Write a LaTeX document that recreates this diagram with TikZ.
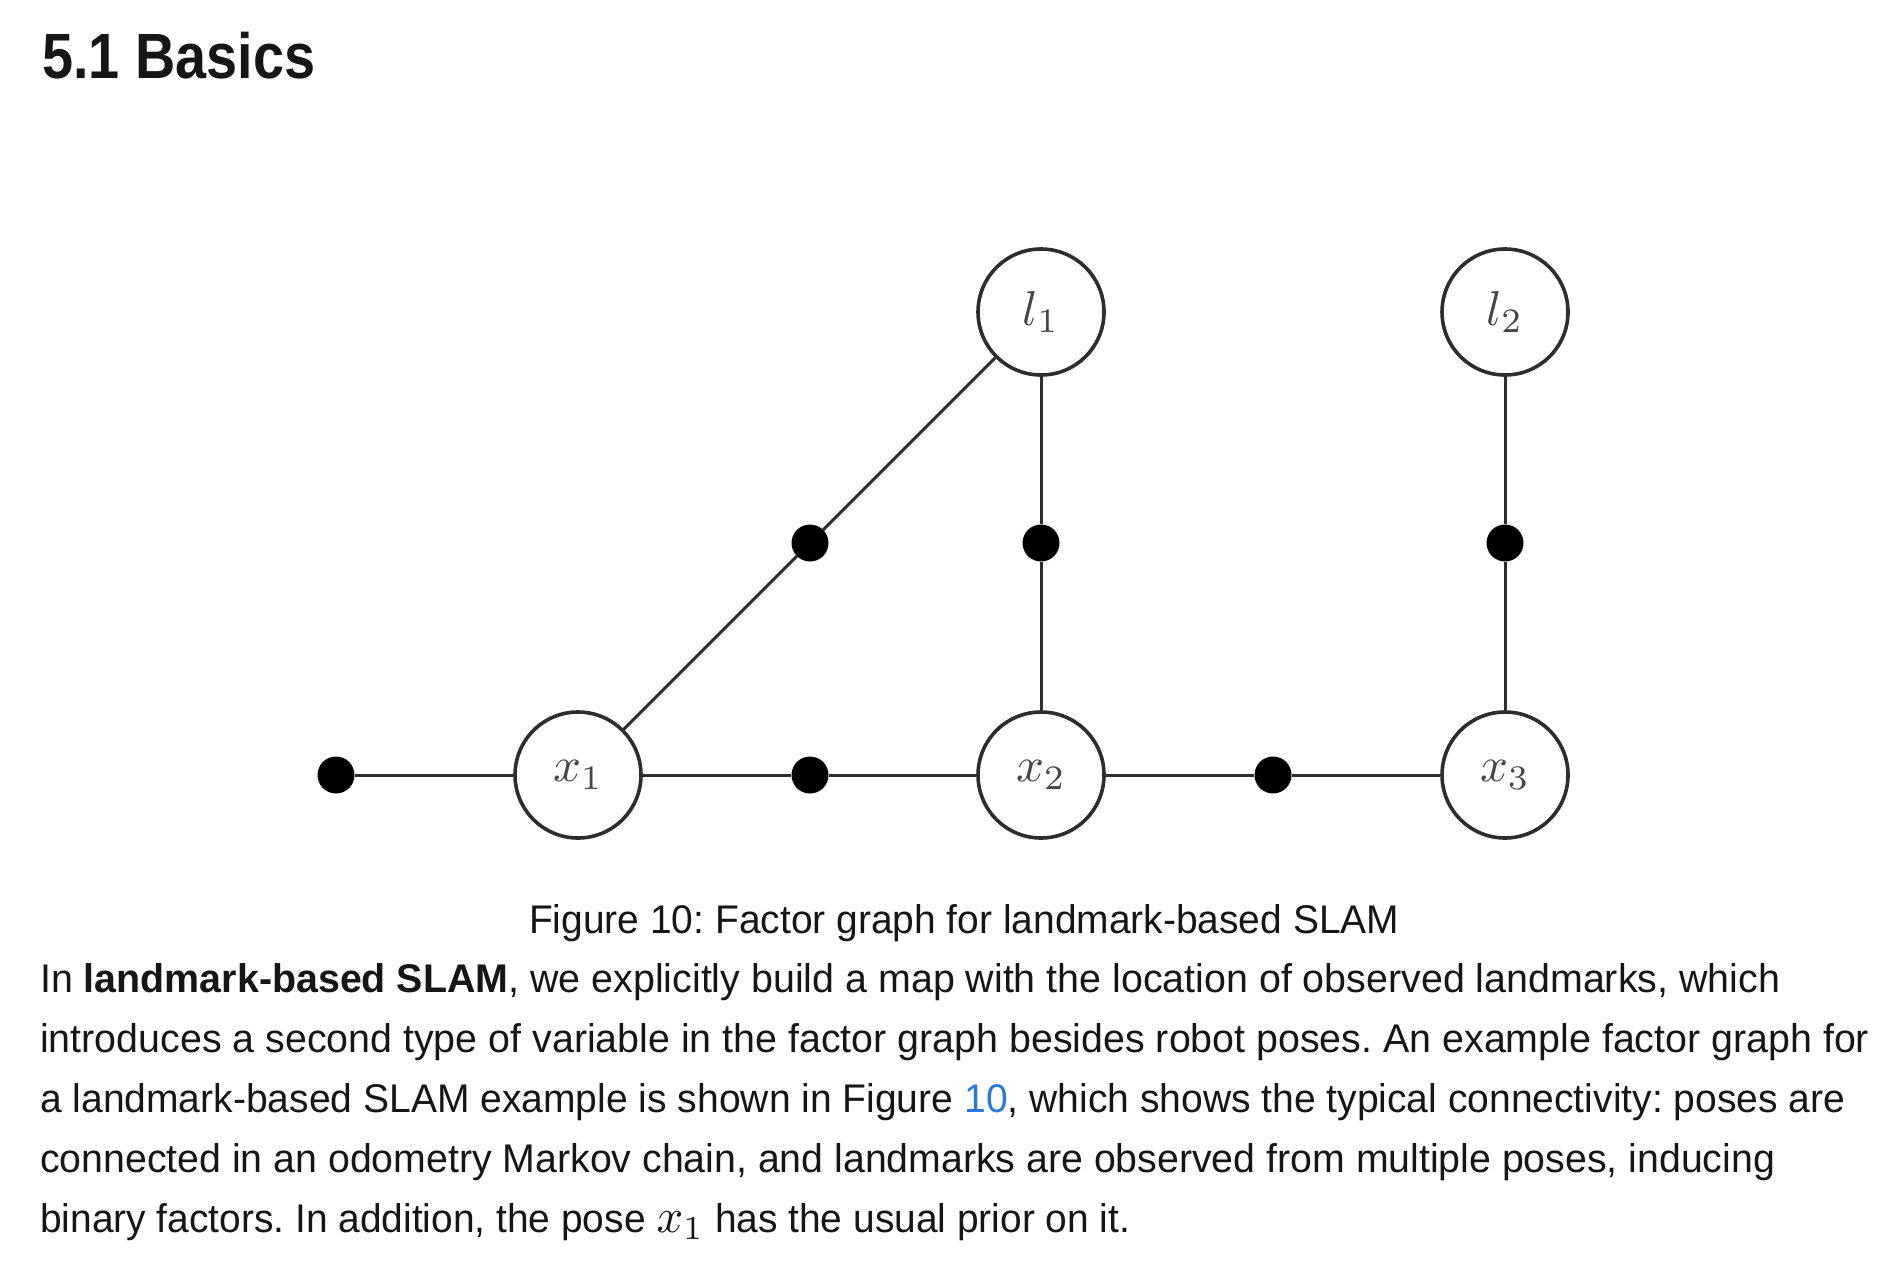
\documentclass[tikz,border=0pt]{standalone}
\usepackage{fontspec}
\setmainfont{Liberation Sans}
\usepackage{graphicx}
\definecolor{ink}{RGB}{22,22,22}
\definecolor{edgec}{RGB}{45,45,45}
\definecolor{labelc}{RGB}{70,70,70}
\definecolor{linkblue}{RGB}{40,120,220}
\tikzset{
  var/.style={circle, draw=edgec, line width=3.6pt, fill=white, minimum size=126pt, inner sep=0pt, text=labelc},
  fac/.style={circle, fill=black, minimum size=37pt, inner sep=0pt},
  conn/.style={draw=edgec, line width=3pt},
  txt/.style={anchor=base west, inner sep=0pt, text=ink},
}
\frenchspacing
\begin{document}
\begin{tikzpicture}[x=1pt,y=-1pt]
\useasboundingbox[fill=white] (0,0) rectangle (1894,1260);

% variables
\node[var] (x1) at (578,775) {\scalebox{4.9}{$x_1$}};
\node[var] (x2) at (1041,775) {\scalebox{4.9}{$x_2$}};
\node[var] (x3) at (1505,775) {\scalebox{4.9}{$x_3$}};
\node[var] (l1) at (1041,312) {\scalebox{4.9}{$l_1$}};
\node[var] (l2) at (1505,312) {\scalebox{4.9}{$l_2$}};

% factors
\node[fac] (prior) at (336,775) {};
\node[fac] (f12) at (810,775) {};
\node[fac] (f23) at (1273,775) {};
\node[fac] (f1l1) at (810,543) {};
\node[fac] (f2l1) at (1041,543) {};
\node[fac] (f3l2) at (1505,543) {};

% connectors
\path[conn] (prior) -- (x1);
\path[conn] (x1) -- (f12) -- (x2);
\path[conn] (x2) -- (f23) -- (x3);
\path[conn] (x1) -- (f1l1) -- (l1);
\path[conn] (x2) -- (f2l1) -- (l1);
\path[conn] (x3) -- (f3l2) -- (l2);

% texts
\node[txt] (head) at (42,79) {\resizebox{273pt}{\height}{\fontsize{64}{70}\selectfont\bfseries 5.1 Basics}};
\node[txt] (cap) at (529,933) {\resizebox{870pt}{\height}{\fontsize{40}{48}\selectfont Figure 10: Factor graph for landmark-based SLAM}};
\node[txt] (b1) at (40,992) {\resizebox{1740pt}{\height}{\fontsize{40}{48}\selectfont In \textbf{landmark-based SLAM}, we explicitly build a map with the location of observed landmarks, which}};
\node[txt] (b2) at (40,1052) {\resizebox{1829pt}{\height}{\fontsize{40}{48}\selectfont introduces a second type of variable in the factor graph besides robot poses. An example factor graph for}};
\node[txt] (b3) at (40,1112) {\resizebox{1805pt}{\height}{\fontsize{40}{48}\selectfont a landmark-based SLAM example is shown in Figure \textcolor{linkblue}{10}, which shows the typical connectivity: poses are}};
\node[txt] (b4) at (40,1172) {\resizebox{1735pt}{\height}{\fontsize{40}{48}\selectfont connected in an odometry Markov chain, and landmarks are observed from multiple poses, inducing}};
\node[txt] (b5) at (40,1232) {\resizebox{1090pt}{\height}{\fontsize{40}{48}\selectfont binary factors. In addition, the pose \scalebox{4.8}{\normalsize$x_1$} has the usual prior on it.}};
\end{tikzpicture}
\end{document}
